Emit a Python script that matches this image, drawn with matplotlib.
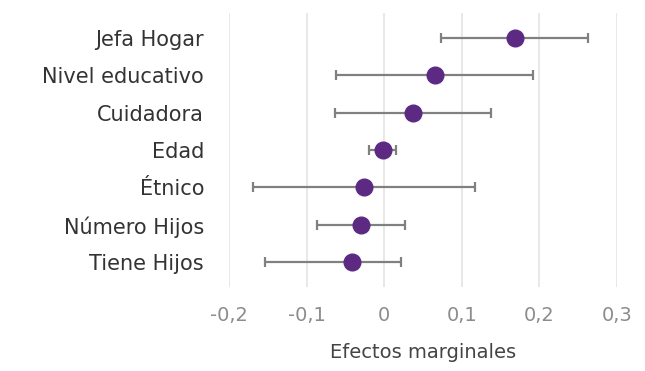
import numpy as np
import matplotlib.pyplot as plt

plt.rcParams['font.family'] = ['DejaVu Sans']

variables = ['Jefa Hogar', 'Nivel educativo', 'Cuidadora', 'Edad',
             'Étnico', 'Número Hijos', 'Tiene Hijos']
efecto = [0.168, 0.066, 0.037, -0.002, -0.026, -0.030, -0.042]
ic_bajo = [0.073, -0.062, -0.064, -0.019, -0.169, -0.087, -0.153]
ic_alto = [0.262, 0.192, 0.138, 0.015, 0.117, 0.027, 0.022]
xticks = [-0.2, -0.1, 0, 0.1, 0.2, 0.3]
xtick_labels = ['-0,2', '-0,1', '0', '0,1', '0,2', '0,3']

efecto = np.array(efecto)
err = np.array([efecto - np.array(ic_bajo), np.array(ic_alto) - efecto])
y = np.arange(len(variables))

fig = plt.figure(figsize=(6.45, 3.71), dpi=100)
ax = fig.add_axes([229 / 645, 84 / 371, 388 / 645, 274 / 371])

ax.errorbar(efecto, y, xerr=err, fmt='none', ecolor='#808080',
            elinewidth=1.6, capsize=3.5, capthick=1.6, zorder=2)
ax.plot(efecto, y, 'o', color='#5c2a83', markersize=12, zorder=3)

ax.set_yticks(y)
ax.set_yticklabels(variables, fontsize=15, color='#333333')
ax.set_xticks(xticks)
ax.set_xticklabels(xtick_labels, fontsize=14, color='#8c8c8c')
ax.set_xlim(-0.2, 0.3)
ax.set_ylim(6.66, -0.66)
ax.tick_params(length=0)
ax.tick_params(axis='y', pad=18)
ax.tick_params(axis='x', pad=14)
ax.xaxis.grid(True, color='#e4e4e4', linewidth=1.2)
ax.set_axisbelow(True)
for s in ax.spines.values():
    s.set_visible(False)
ax.set_xlabel('Efectos marginales', fontsize=14, color='#444444', labelpad=13)

fig.savefig('out.png', dpi=100)
